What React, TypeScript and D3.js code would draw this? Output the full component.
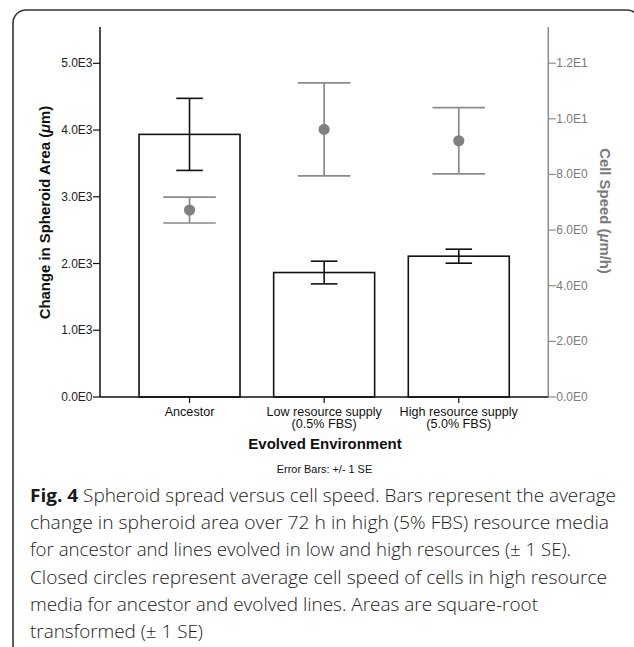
import * as d3 from 'd3';

// chart values
const CATEGORIES = ['Ancestor', 'Low resource supply\n(0.5% FBS)', 'High resource supply\n(5.0% FBS)'];
const AREA_MEAN = [3935, 1865, 2110];
const AREA_SE = [540, 170, 105];
const SPEED_MEAN = [6.72, 9.62, 9.21];
const SPEED_SE = [0.465, 1.67, 1.19];
const AREA_TICKS = [0, 1000, 2000, 3000, 4000, 5000];
const SPEED_TICKS = [0, 2, 4, 6, 8, 10, 12];

const CAPTION_LINES = [
    'Spheroid spread versus cell speed. Bars represent the average',
    'change in spheroid area over 72 h in high (5% FBS) resource media',
    'for ancestor and lines evolved in low and high resources (\u00b1 1 SE).',
    'Closed circles represent average cell speed of cells in high resource',
    'media for ancestor and evolved lines. Areas are square-root',
    'transformed (\u00b1 1 SE)',
];
const CAPTION_WIDTHS = [586, 579, 541, 577, 508, 173];

const W = 634;
const H = 647;
const PLOT = { left: 100, right: 548.3, top: 27, bottom: 397 };
const FONT = '"Liberation Sans", Arial, sans-serif';
const GREY = '#8a8a8a';

// 5000 -> "5.0E3"
const sci = (v: number) => d3.format('.1e')(v).replace('e+', 'E').replace('e-', 'E-');

export default function App() {
    const x = d3
        .scaleBand()
        .domain(CATEGORIES)
        .range([PLOT.left, PLOT.right])
        .paddingInner(0.25)
        .paddingOuter(0.29);

    const yArea = d3.scaleLinear().domain([0, 5544]).range([PLOT.bottom, PLOT.top]);
    const ySpeed = d3.scaleLinear().domain([0, 13.3]).range([PLOT.bottom, PLOT.top]);

    const bars = CATEGORIES.map((c, i) => {
        const x0 = x(c)!;
        const cx = x0 + x.bandwidth() / 2;
        const lo = yArea(AREA_MEAN[i] - AREA_SE[i]);
        const hi = yArea(AREA_MEAN[i] + AREA_SE[i]);
        return (
            <g key={c}>
                <rect
                    x={x0}
                    y={yArea(AREA_MEAN[i])}
                    width={x.bandwidth()}
                    height={PLOT.bottom - yArea(AREA_MEAN[i])}
                    fill="#fff"
                    stroke="#111"
                    strokeWidth={1.6}
                />
                <line x1={cx} x2={cx} y1={lo} y2={hi} stroke="#111" strokeWidth={1.6} />
                <line x1={cx - 13.3} x2={cx + 13.3} y1={lo} y2={lo} stroke="#111" strokeWidth={1.6} />
                <line x1={cx - 13.3} x2={cx + 13.3} y1={hi} y2={hi} stroke="#111" strokeWidth={1.6} />
            </g>
        );
    });

    const points = CATEGORIES.map((c, i) => {
        const cx = x(c)! + x.bandwidth() / 2;
        const lo = ySpeed(SPEED_MEAN[i] - SPEED_SE[i]);
        const hi = ySpeed(SPEED_MEAN[i] + SPEED_SE[i]);
        return (
            <g key={c}>
                <line x1={cx} x2={cx} y1={lo} y2={hi} stroke={GREY} strokeWidth={1.7} />
                <line x1={cx - 26.3} x2={cx + 26.3} y1={lo} y2={lo} stroke={GREY} strokeWidth={1.7} />
                <line x1={cx - 26.3} x2={cx + 26.3} y1={hi} y2={hi} stroke={GREY} strokeWidth={1.7} />
                <circle cx={cx} cy={ySpeed(SPEED_MEAN[i])} r={5.6} fill="#808080" />
            </g>
        );
    });

    const leftAxis = AREA_TICKS.map(t => (
        <g key={t}>
            <line x1={PLOT.left - 7} x2={PLOT.left} y1={yArea(t)} y2={yArea(t)} stroke="#111" strokeWidth={1.2} />
            <text x={PLOT.left - 7.5} y={yArea(t)} textAnchor="end" dominantBaseline="central" fontSize={12} fill="#222">
                {sci(t)}
            </text>
        </g>
    ));

    const rightAxis = SPEED_TICKS.map(t => (
        <g key={t}>
            <line x1={PLOT.right} x2={PLOT.right + 7.5} y1={ySpeed(t)} y2={ySpeed(t)} stroke={GREY} strokeWidth={1.2} />
            <text x={PLOT.right + 8} y={ySpeed(t)} textAnchor="start" dominantBaseline="central" fontSize={12} fill="#7a7a7a">
                {sci(t)}
            </text>
        </g>
    ));

    const xLabels = CATEGORIES.map(c => {
        const cx = x(c)! + x.bandwidth() / 2;
        return (
            <g key={c}>
                <line x1={cx} x2={cx} y1={PLOT.bottom} y2={PLOT.bottom + 6} stroke="#111" strokeWidth={1.2} />
                <text textAnchor="middle" fontSize={12.6} fill="#111">
                    {c.split('\n').map((s, j) => (
                        <tspan key={j} x={cx} y={PLOT.bottom + 18.5 + j * 12.5}>{s}</tspan>
                    ))}
                </text>
            </g>
        );
    });

    return (
        <div>
            <style>{'body{margin:0}'}</style>
            <svg width={W} height={H} style={{ display: 'block' }} fontFamily={FONT}>
                <rect x={13} y={10} width={627} height={648} rx={13} fill="#fff" stroke="#333" strokeWidth={1.6} />

                {bars}
                {points}

                {/* axes */}
                <line x1={PLOT.left} x2={PLOT.left} y1={PLOT.top} y2={PLOT.bottom} stroke="#111" strokeWidth={1.5} />
                <line x1={PLOT.right} x2={PLOT.right} y1={PLOT.top} y2={PLOT.bottom} stroke={GREY} strokeWidth={1.5} />
                <line x1={PLOT.left} x2={PLOT.right} y1={PLOT.bottom} y2={PLOT.bottom} stroke="#111" strokeWidth={1.5} />
                {leftAxis}
                {rightAxis}
                {xLabels}

                <text
                    transform={`translate(45,${(PLOT.top + PLOT.bottom) / 2 + 0.5}) rotate(-90)`}
                    textAnchor="middle"
                    dominantBaseline="central"
                    fontSize={14.9}
                    fontWeight="bold"
                    fill="#111"
                >
                    Change in Spheroid Area (<tspan fontStyle="italic">μ</tspan>m)
                </text>
                <text
                    transform={`translate(605,${(PLOT.top + PLOT.bottom) / 2 - 1}) rotate(90)`}
                    textAnchor="middle"
                    dominantBaseline="central"
                    fontSize={14.9}
                    fontWeight="bold"
                    fill="#7a7a7a"
                >
                    Cell Speed (<tspan fontStyle="italic">μ</tspan>m/h)
                </text>
                <text x={325} y={443} textAnchor="middle" dominantBaseline="central" fontSize={15} fontWeight="bold" fill="#111">
                    Evolved Environment
                </text>
                <text x={324.5} y={469} textAnchor="middle" dominantBaseline="central" fontSize={10.9} fill="#111">
                    Error Bars: +/- 1 SE
                </text>

                {/* figure caption */}
                <g fontFamily='"Open Sans", sans-serif' fontSize={18.5} fontWeight={300} fill="#1a1a1a">
                    {CAPTION_LINES.map((s, i) => (
                        <text
                            key={i}
                            x={30}
                            y={502 + i * 27.2}
                            textLength={CAPTION_WIDTHS[i]}
                            lengthAdjust="spacingAndGlyphs"
                        >
                            {i === 0 && <tspan fontWeight="bold">Fig. 4 </tspan>}
                            {s}
                        </text>
                    ))}
                </g>
            </svg>
        </div>
    );
}
